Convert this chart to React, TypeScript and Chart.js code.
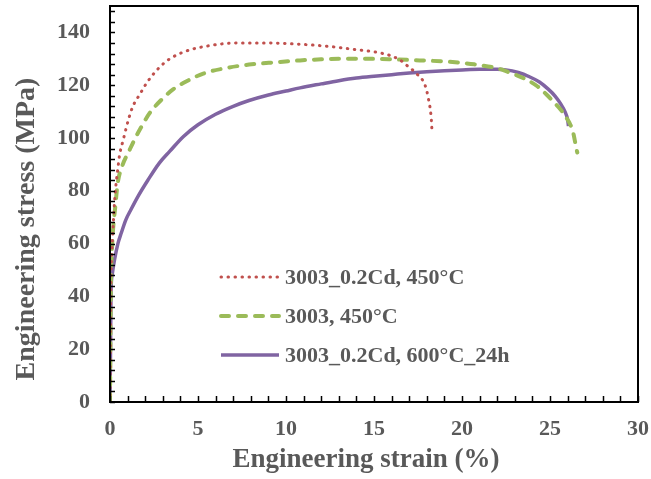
import React, { useEffect, useRef } from "react";
import { Chart, registerables } from "chart.js";

Chart.register(...registerables);

// ---- Data ----
const seriesLabels = ["3003_0.2Cd, 450°C", "3003, 450°C", "3003_0.2Cd, 600°C_24h"];

const redStrain = [0, 0.02, 0.05, 0.1, 0.16, 0.26, 0.35, 0.44, 0.53, 0.76, 1.05, 1.3, 1.7, 2.0, 2.5, 3.06, 3.6, 4.5, 5.5, 6.6, 7.5, 8.9, 10.8, 11.9, 13, 13.8, 14.6, 15.3, 16.1, 16.6, 16.9, 17.4, 17.9, 18.1, 18.25, 18.3];
const redStress = [0, 25, 46, 56, 64, 76, 83, 88, 93, 99.5, 107, 112, 116.6, 120, 124.5, 128.3, 130.8, 133.3, 134.8, 135.8, 136, 136, 135.5, 135, 134.3, 133.6, 133, 132.3, 130.8, 129, 127.3, 124.5, 120, 114.6, 107.6, 102];

const greenStrain = [0, 0.02, 0.05, 0.1, 0.16, 0.3, 0.44, 0.7, 1.1, 1.4, 1.68, 2.24, 3.0, 3.6, 4.16, 5.3, 6.6, 7.9, 9.45, 10.8, 12, 13, 14.5, 16, 17.6, 19, 19.9, 20.7, 21.4, 22, 22.5, 23.1, 23.7, 24.3, 24.8, 25.2, 25.6, 25.9, 26.1, 26.3, 26.4, 26.5, 26.55];
const greenStress = [0, 20, 45, 56, 64, 74, 83, 89.5, 95.3, 99.5, 103, 109.3, 115, 118.5, 120.8, 124.4, 126.5, 127.8, 128.7, 129.4, 129.8, 130, 130, 129.8, 129.4, 129, 128.5, 127.9, 127.2, 126.4, 125.3, 123.8, 122, 119.5, 116.5, 113.7, 110.8, 108, 105.8, 102.5, 99.4, 96, 94.5];

const purpleStrain = [0, 0.03, 0.06, 0.12, 0.26, 0.45, 0.64, 0.9, 1.2, 1.6, 2.15, 2.8, 3.4, 4.16, 5.0, 6.0, 7.0, 7.9, 9, 10, 10.8, 12, 13, 14, 15, 16, 17, 18, 19, 20, 21, 22, 22.5, 23.2, 23.8, 24.4, 24.9, 25.3, 25.6, 25.85, 26.0, 26.05];
const purpleStress = [0, 20, 42, 48, 54, 60, 64, 69, 73, 78, 84, 90.5, 95, 100.5, 105, 109, 112, 114.2, 116.3, 117.8, 119, 120.5, 121.7, 122.7, 123.4, 124, 124.6, 125.1, 125.5, 125.8, 126, 126, 125.8, 124.8, 123.3, 121.2, 118.5, 115.8, 113, 110, 107, 104.5];

const xTickValues = [0, 5, 10, 15, 20, 25, 30];
const yTickValues = [0, 20, 40, 60, 80, 100, 120, 140];

const xTitle = "Engineering strain (%)";
const yTitle = "Engineering stress (MPa)";

// ---- Styles ----
const TEXT = "#595959";
const FONT_FAMILY = "'Liberation Serif', 'Times New Roman', serif";
const RED = "#C0504D";
const GREEN = "#9BBB59";
const PURPLE = "#8064A2";

const lineStyles = [
  { color: RED, width: 3, dash: [0.5, 6.5], cap: "round" as CanvasLineCap },
  { color: GREEN, width: 4, dash: [8, 9], cap: "round" as CanvasLineCap },
  { color: PURPLE, width: 3.5, dash: [] as number[], cap: "butt" as CanvasLineCap },
];

const toPoints = (xs: number[], ys: number[]) => xs.map((x, i) => ({ x, y: ys[i] }));

const decorPlugin = {
  id: "decor",
  afterDatasetsDraw(chart: any) {
    const { ctx, chartArea, scales } = chart;
    const xs = scales.x;
    const ys = scales.y;
    ctx.save();
    // frame
    ctx.strokeStyle = "#000";
    ctx.lineWidth = 2;
    ctx.setLineDash([]);
    ctx.strokeRect(chartArea.left, chartArea.top, chartArea.right - chartArea.left, chartArea.bottom - chartArea.top);
    // inside ticks
    ctx.lineWidth = 1.5;
    ctx.beginPath();
    for (let v = 0; v <= 148; v += 4) {
      const py = Math.round(ys.getPixelForValue(v)) + 0.5;
      ctx.moveTo(chartArea.left, py);
      ctx.lineTo(chartArea.left + 5, py);
    }
    for (let v = 0; v <= 30; v += 1) {
      const px = Math.round(xs.getPixelForValue(v)) + 0.5;
      ctx.moveTo(px, chartArea.bottom);
      ctx.lineTo(px, chartArea.bottom - 6);
    }
    ctx.stroke();

    // legend
    const rows = [277, 316, 355];
    ctx.font = `bold 22px ${FONT_FAMILY}`;
    ctx.textBaseline = "middle";
    ctx.textAlign = "left";
    seriesLabels.forEach((label, i) => {
      const st = lineStyles[i];
      ctx.beginPath();
      ctx.strokeStyle = st.color;
      ctx.lineWidth = st.width;
      ctx.setLineDash(st.dash);
      ctx.lineCap = st.cap;
      ctx.moveTo(221, rows[i]);
      ctx.lineTo(279, rows[i]);
      ctx.stroke();
      ctx.setLineDash([]);
      ctx.fillStyle = TEXT;
      ctx.fillText(label, 285, rows[i] + 1);
    });

    // axis titles
    ctx.fillStyle = TEXT;
    ctx.textAlign = "center";
    ctx.font = `bold 27px ${FONT_FAMILY}`;
    ctx.fillText(xTitle, 366, 460);
    ctx.save();
    ctx.translate(27, 229);
    ctx.rotate(-Math.PI / 2);
    ctx.font = `bold 28px ${FONT_FAMILY}`;
    ctx.fillText(yTitle, 0, 0);
    ctx.restore();
    ctx.restore();
  },
};

export default function App() {
  const canvasRef = useRef<HTMLCanvasElement | null>(null);

  useEffect(() => {
    if (!canvasRef.current) return;
    const series = [
      toPoints(redStrain, redStress),
      toPoints(greenStrain, greenStress),
      toPoints(purpleStrain, purpleStress),
    ];
    const chart = new Chart(canvasRef.current, {
      type: "line",
      data: {
        datasets: series.map((pts, i) => ({
          label: seriesLabels[i],
          data: pts,
          borderColor: lineStyles[i].color,
          backgroundColor: lineStyles[i].color,
          borderWidth: lineStyles[i].width,
          borderDash: lineStyles[i].dash,
          borderCapStyle: lineStyles[i].cap,
          pointRadius: 0,
          fill: false,
          tension: 0.3,
          cubicInterpolationMode: "monotone",
        })),
      },
      options: {
        animation: false,
        responsive: true,
        maintainAspectRatio: false,
        layout: { padding: { left: 0, top: 6, right: 13, bottom: 0 } },
        plugins: { legend: { display: false }, tooltip: { enabled: false } },
        scales: {
          x: {
            type: "linear",
            min: 0,
            max: 30,
            afterBuildTicks: (s: any) => {
              s.ticks = xTickValues.map((v) => ({ value: v }));
            },
            afterFit: (s: any) => {
              s.height = 77;
              s.paddingLeft = 0;
              s.paddingRight = 0;
            },
            grid: { display: false, drawTicks: false },
            border: { display: false },
            ticks: {
              color: TEXT,
              font: { family: FONT_FAMILY, size: 22, weight: "bold" },
              padding: 14,
              maxRotation: 0,
              autoSkip: false,
            },
          },
          y: {
            type: "linear",
            min: 0,
            max: 150,
            afterBuildTicks: (s: any) => {
              s.ticks = yTickValues.map((v) => ({ value: v }));
            },
            afterFit: (s: any) => {
              s.width = 110;
              s.paddingTop = 0;
              s.paddingBottom = 0;
            },
            grid: { display: false, drawTicks: false },
            border: { display: false },
            ticks: {
              color: TEXT,
              font: { family: FONT_FAMILY, size: 22, weight: "bold" },
              padding: 20,
              autoSkip: false,
            },
          },
        },
      },
      plugins: [decorPlugin],
    } as any);
    return () => chart.destroy();
  }, []);

  return (
    <div style={{ position: "absolute", left: 0, top: 0, width: 651, height: 479, background: "#fff" }}>
      <canvas ref={canvasRef} />
    </div>
  );
}
